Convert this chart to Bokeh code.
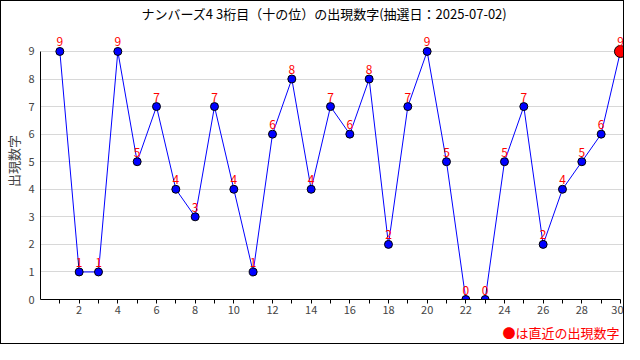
from bokeh.plotting import figure
from bokeh.models import ColumnDataSource, Range1d, FixedTicker, Title
from bokeh.core.properties import value
from bokeh.embed import file_html
from bokeh.resources import INLINE

draws = list(range(1, 31))
digits = [9, 1, 1, 9, 5, 7, 4, 3, 7, 4, 1, 6, 8, 4, 7, 6, 8, 2, 7, 9, 5, 0, 0, 5, 7, 2, 4, 5, 6, 9]
y_ticks = list(range(0, 10))
title_text = "ナンバーズ4 3桁目（十の位）の出現数字(抽選日：2025-07-02)"
y_label = "出現数字"
legend_text = "●は直近の出現数字"

FONT = "Noto Sans CJK JP"

src = ColumnDataSource(dict(x=draws, y=digits, t=[str(d) for d in digits]))
last = ColumnDataSource(dict(x=draws[-1:], y=digits[-1:]))
prev = ColumnDataSource(dict(x=draws[:-1], y=digits[:-1]))

p = figure(width=624, height=344, output_backend="svg", toolbar_location=None,
           x_range=Range1d(0, 30.26), y_range=Range1d(0, 10.05),
           min_border_left=39, min_border_right=0, min_border_top=21, min_border_bottom=45)
p.styles = {"border": "1px solid black"}
p.outline_line_color = None
p.background_fill_color = "white"
p.border_fill_color = "white"

p.title.text = title_text
p.title.align = "left"
p.title.offset = 101
p.title.standoff = 0
p.title.text_font = FONT
p.title.text_font_size = "13px"
p.title.text_font_style = "normal"
p.title.text_color = "black"

p.add_layout(Title(text=legend_text, align="right", text_color="red",
                   text_font=FONT, text_font_size="13px", text_font_style="normal",
                   standoff=8, offset=6), "below")

p.xaxis.ticker = FixedTicker(ticks=draws)
p.xaxis.bounds = (0, 30)
p.xaxis.major_label_overrides = {d: ("" if d % 2 else str(d)) for d in draws}
p.xaxis.major_tick_out = 4
p.xaxis.major_tick_in = 0
p.xaxis.minor_tick_out = 0
p.xaxis.major_label_standoff = 2
p.xaxis.major_label_text_font = FONT
p.xaxis.major_label_text_font_size = "11px"
p.xaxis.axis_line_color = "black"

p.yaxis.ticker = FixedTicker(ticks=y_ticks)
p.yaxis.bounds = (0, 9)
p.yaxis.major_tick_out = 0
p.yaxis.major_tick_in = 0
p.yaxis.minor_tick_out = 0
p.yaxis.major_label_standoff = 6
p.yaxis.major_label_text_font = FONT
p.yaxis.major_label_text_font_size = "11px"
p.yaxis.axis_label = y_label
p.yaxis.axis_label_text_font = FONT
p.yaxis.axis_label_text_font_size = "13px"
p.yaxis.axis_label_text_font_style = "normal"
p.yaxis.axis_label_standoff = 2
p.yaxis.axis_line_color = "black"

p.xgrid.grid_line_color = None
p.ygrid.ticker = FixedTicker(ticks=y_ticks)
p.ygrid.grid_line_color = "#d8d8d8"

p.line("x", "y", source=src, line_color="#0000ff", line_width=1)
p.scatter("x", "y", source=prev, size=8, fill_color="#0000ff", line_color="black", line_width=1)
p.scatter("x", "y", source=last, size=12, fill_color="#ff0000", line_color="black", line_width=1)
p.text("x", "y", text="t", source=src, y_offset=-5, text_align="center", text_baseline="bottom",
       text_color="#ff0000", text_font=value(FONT), text_font_size="12px")

open("out.html", "w").write(file_html(p, INLINE))
